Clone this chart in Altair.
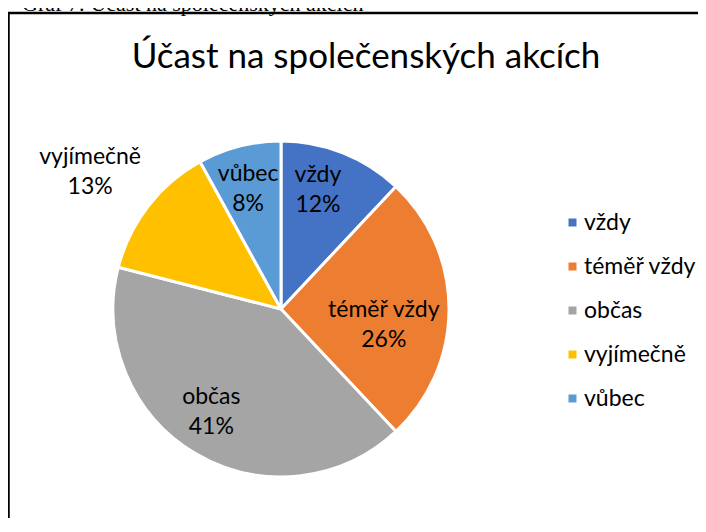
import altair as alt
import pandas as pd

categories = ["vždy", "téměř vždy", "občas", "vyjímečně", "vůbec"]
percent = [12, 26, 41, 13, 8]
colors = ["#4472C4", "#ED7D31", "#A5A5A5", "#FFC000", "#5B9BD5"]
title_text = "Účast na společenských akcích"
caption_text = "Graf 7: Účast na společenských akcích"

df = pd.DataFrame({
    "kategorie": categories,
    "podil": percent,
    "poradi": list(range(len(categories))),
})
df["popisek"] = [f"{c}\n{p}%" for c, p in zip(categories, percent)]

W, H = 690, 510
CX, CY = 273, 301
R = 168
FONT = "Lato"
LBL = 23
LH = 30

base = alt.Chart(df).encode(
    theta=alt.Theta("podil:Q", stack=True),
    order=alt.Order("poradi:Q"),
    detail=alt.Detail("kategorie:N"),
    x=alt.value(CX),
    y=alt.value(CY),
)

arcs = base.mark_arc(radius=R, stroke="white", strokeWidth=3).encode(
    color=alt.Color(
        "kategorie:N",
        scale=alt.Scale(domain=categories, range=colors),
        legend=alt.Legend(
            orient="none", legendX=553, legendY=203, title=None,
            symbolType="square", symbolSize=64, symbolStrokeWidth=0,
            labelFont=FONT, labelFontSize=LBL, labelColor="black",
            rowPadding=20, labelOffset=0, padding=0,
        ),
    )
)


def label(cat, radius, turn):
    return base.mark_text(
        radius=radius, thetaOffset=turn, dy=-LH / 2, font=FONT, fontSize=LBL,
        lineHeight=LH, lineBreak="\n", baseline="middle", align="center",
        color="black",
    ).encode(
        text="popisek:N",
        opacity=alt.condition(
            alt.FieldOneOfPredicate(field="kategorie", oneOf=[cat]),
            alt.value(1), alt.value(0),
        ),
    )


labels = [
    label("vždy", 125, -0.077),
    label("téměř vždy", 104, 0.150),
    label("občas", 124, 0.063),
    label("vyjímečně", 235, -0.037),
    label("vůbec", 124, -0.017),
]

one = alt.Data(values=[{}])
top_line = alt.Chart(one).mark_rule(color="black", strokeWidth=2.5).encode(
    x=alt.value(-2), x2=alt.value(W), y=alt.value(5)
)
left_line = alt.Chart(one).mark_rule(color="black", strokeWidth=3.5).encode(
    x=alt.value(0), y=alt.value(4), y2=alt.value(H)
)
caption = alt.Chart(one).mark_text(
    text=caption_text, font="Liberation Serif", fontSize=22, align="left",
    baseline="alphabetic", color="black",
).encode(x=alt.value(14), y=alt.value(3))
title = alt.Chart(one).mark_text(
    text=title_text, font=FONT, fontSize=35, align="center",
    baseline="alphabetic", color="black",
).encode(x=alt.value(358), y=alt.value(60))

chart = alt.layer(top_line, left_line, caption, title, arcs, *labels).properties(
    width=W, height=H, autosize=alt.AutoSizeParams(type="none"), padding=0,
).configure_view(strokeWidth=0)

chart.save("out.html", embed_options={"renderer": "svg", "actions": False})
